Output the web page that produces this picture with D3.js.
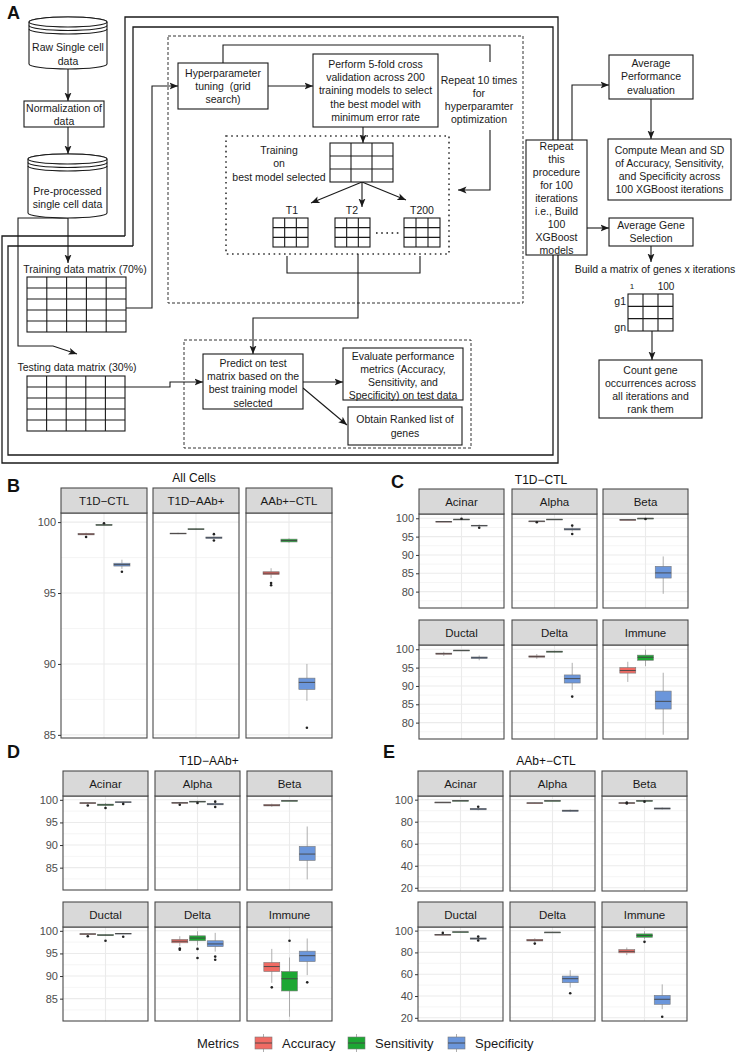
<!DOCTYPE html>
<html>
<head>
<meta charset="utf-8">
<script src="https://cdn.jsdelivr.net/npm/d3@7"></script>
<style>
  body { margin: 0; background: #fff; }
  svg { display: block; }
  text { font-family: "Liberation Sans", Arial, sans-serif; }
</style>
</head>
<body>
<div id="chart"></div>
<script>
// ---- data ----
var metrics = ["Accuracy", "Sensitivity", "Specificity"];
var metricColors = ["#F06B64", "#1DA733", "#6B96DB"];
var comparisons = ["T1D−CTL", "T1D−AAb+", "AAb+−CTL"];
var cellTypes = ["Acinar", "Alpha", "Beta", "Ductal", "Delta", "Immune"];

// one entry per facet, three boxes each (Accuracy, Sensitivity, Specificity)
// box = [lower whisker, q1, median, q3, upper whisker, [outliers]]
var statsB = [
  [[99.05, 99.1, 99.15, 99.2, 99.25, [98.95]], [99.75, 99.78, 99.8, 99.83, 99.87, [99.92]], [96.7, 96.9, 97.0, 97.1, 97.35, [96.5]]],
  [[99.15, 99.18, 99.2, 99.22, 99.25, []], [99.45, 99.48, 99.5, 99.53, 99.56, []], [98.8, 98.85, 98.9, 98.95, 99.0, [99.15, 98.7]]],
  [[96.05, 96.3, 96.4, 96.5, 96.75, [95.7, 95.55]], [98.55, 98.6, 98.7, 98.8, 98.85, []], [87.4, 88.2, 88.7, 89.0, 90.0, [85.5]]]
];
var statsC = [
  [[99.0, 99.05, 99.1, 99.15, 99.2, []], [99.6, 99.65, 99.7, 99.75, 99.8, [99.85]], [97.7, 97.9, 98.0, 98.1, 98.3, [97.4]]],
  [[99.1, 99.15, 99.2, 99.25, 99.3, [98.9]], [99.6, 99.65, 99.7, 99.75, 99.8, []], [96.4, 96.8, 97.0, 97.2, 97.6, [98.0, 95.7]]],
  [[99.55, 99.58, 99.6, 99.62, 99.65, []], [99.9, 99.95, 100, 100, 100, [99.8]], [79.4, 83.7, 85.1, 86.9, 89.6, []]],
  [[98.2, 98.65, 98.8, 98.95, 99.3, []], [99.6, 99.65, 99.7, 99.75, 99.8, []], [97.0, 97.5, 97.7, 97.9, 98.3, []]],
  [[97.4, 97.85, 98.0, 98.2, 98.7, []], [99.1, 99.2, 99.35, 99.5, 99.6, []], [88.9, 90.8, 92.0, 93.0, 96.3, [87.1]]],
  [[91.1, 93.5, 94.2, 95.0, 96.6, []], [95.4, 97.0, 97.8, 98.4, 99.9, []], [76.7, 83.7, 85.8, 88.6, 93.6, []]]
];
var statsD = [
  [[99.2, 99.25, 99.3, 99.35, 99.4, [98.75]], [98.5, 98.75, 98.9, 99.05, 99.3, [98.2]], [99.4, 99.45, 99.5, 99.55, 99.6, [99.1]]],
  [[99.25, 99.3, 99.35, 99.4, 99.45, [98.9]], [99.4, 99.5, 99.6, 99.7, 99.8, [99.3]], [98.7, 98.9, 99.05, 99.2, 99.4, [99.6, 98.4]]],
  [[98.45, 98.65, 98.8, 98.95, 99.15, []], [99.75, 99.78, 99.8, 99.82, 99.85, []], [82.4, 86.6, 88.0, 89.7, 94.1, []]],
  [[99.2, 99.25, 99.3, 99.35, 99.4, [98.8]], [98.9, 98.95, 99.05, 99.15, 99.25, [97.8]], [99.3, 99.35, 99.4, 99.45, 99.5, [98.7]]],
  [[96.6, 97.35, 97.7, 98.1, 98.8, [96.1, 95.8]], [96.8, 97.8, 98.4, 98.9, 99.9, [96.0, 94.0]], [95.4, 96.5, 97.1, 97.8, 99.55, [94.3, 93.6]]],
  [[88.5, 91.0, 92.1, 93.0, 96.0, [87.5]], [81.0, 86.7, 89.4, 91.0, 94.1, [97.8]], [90.2, 93.2, 94.5, 95.5, 98.3, [88.6]]]
];
var statsE = [
  [[97.3, 97.5, 97.6, 97.7, 97.9, []], [98.9, 99.0, 99.1, 99.2, 99.3, []], [90.3, 90.8, 91.5, 92.0, 92.5, [93.6]]],
  [[96.8, 96.9, 97.0, 97.1, 97.2, []], [98.8, 98.9, 99.0, 99.1, 99.2, []], [88.8, 89.3, 90.0, 90.5, 91.0, []]],
  [[96.5, 96.8, 97.0, 97.2, 97.5, [97.3, 96.6]], [98.7, 98.9, 99.0, 99.1, 99.3, [98.2]], [91.0, 91.4, 92.0, 92.5, 93.0, []]],
  [[95.9, 96.1, 96.3, 96.5, 96.7, [97.9]], [98.5, 98.7, 98.8, 98.9, 99.1, []], [91.5, 92.1, 92.7, 93.3, 93.9, [91.0, 94.5]]],
  [[89.5, 90.5, 91.2, 92.0, 93.0, [88.1]], [98.2, 98.4, 98.5, 98.6, 98.8, []], [47.7, 52.2, 55.9, 58.3, 63.7, [42.5]]],
  [[77.5, 79.6, 81.0, 82.6, 84.5, []], [92.0, 93.9, 95.5, 97.0, 99.4, [89.7]], [27.9, 32.4, 37.0, 40.6, 50.7, [21.0]]]
];
var ticksB = [85, 90, 95, 100];
var ticksC = [80, 85, 90, 95, 100];
var ticksD = [85, 90, 95, 100];
var ticksE = [20, 40, 60, 80, 100];

var svg = d3.select("#chart").append("svg")
  .attr("width", 736)
  .attr("height", 1054);

var ink = "#1a1a1a";

svg.append("defs").append("marker")
  .attr("id", "arr")
  .attr("markerUnits", "userSpaceOnUse")
  .attr("markerWidth", 9).attr("markerHeight", 8)
  .attr("refX", 8.5).attr("refY", 4)
  .attr("orient", "auto")
  .append("path").attr("d", "M0,0.5 L8.5,4 L0,7.5 L2,4 Z").attr("fill", ink);

// ================= panel A : workflow =================
var fc = svg.append("g");
var linesG = fc.append("g"), boxG = fc.append("g"), textG = fc.append("g");

function path(pts, arrow, w) {
  linesG.append("path")
    .attr("d", d3.line()(pts))
    .attr("fill", "none")
    .attr("stroke", ink)
    .attr("stroke-width", w || 1.1)
    .attr("marker-end", arrow ? "url(#arr)" : null);
}
function dashRect(x, y, w, h, dash, sw) {
  linesG.append("rect").attr("x", x).attr("y", y).attr("width", w).attr("height", h)
    .attr("fill", "none").attr("stroke", "#333").attr("stroke-width", sw || 1)
    .attr("stroke-dasharray", dash);
}
function box(x, y, w, h) {
  boxG.append("rect").attr("x", x).attr("y", y).attr("width", w).attr("height", h)
    .attr("fill", "#fff").attr("stroke", ink).attr("stroke-width", 1.1);
}
function grid(x, y, w, h, cols, rows) {
  var g = boxG.append("g").attr("stroke", ink).attr("stroke-width", 1.1);
  g.append("rect").attr("x", x).attr("y", y).attr("width", w).attr("height", h).attr("fill", "#fff");
  for (var c = 1; c < cols; c++) {
    g.append("line").attr("x1", x + w * c / cols).attr("x2", x + w * c / cols).attr("y1", y).attr("y2", y + h);
  }
  for (var r = 1; r < rows; r++) {
    g.append("line").attr("x1", x).attr("x2", x + w).attr("y1", y + h * r / rows).attr("y2", y + h * r / rows);
  }
}
function cylinder(x0, y0, x1, y1) {
  var rx = (x1 - x0) / 2, ry = 5, cx = x0 + rx;
  var g = boxG.append("g").attr("fill", "#fff").attr("stroke", ink).attr("stroke-width", 1.1);
  g.append("path").attr("d", "M" + x0 + "," + (y0 + ry) + " A" + rx + "," + ry + " 0 0 1 " + x1 + "," + (y0 + ry) +
    " V" + (y1 - ry) + " A" + rx + "," + ry + " 0 0 1 " + x0 + "," + (y1 - ry) + " Z");
  g.append("ellipse").attr("cx", cx).attr("cy", y0 + ry).attr("rx", rx).attr("ry", ry);
  [3.5, 7].forEach(function(o) {
    g.append("path").attr("fill", "none")
      .attr("d", "M" + x0 + "," + (y0 + ry + o) + " A" + rx + "," + ry + " 0 0 0 " + x1 + "," + (y0 + ry + o));
  });
}
function txt(cx, y0, step, lines, size, anchor) {
  lines.forEach(function(t, i) {
    textG.append("text")
      .attr("x", cx).attr("y", y0 + i * step).attr("dy", "0.35em")
      .attr("text-anchor", anchor || "middle")
      .attr("font-size", size || 10.5)
      .attr("fill", ink)
      .style("white-space", "pre")
      .text(t);
  });
}

// outer loops
path([[125, 236], [125, 17], [558, 17], [558, 463], [2, 463], [2, 236], [125, 236]], false, 1.3);
path([[133, 246], [133, 27], [553, 27], [553, 455], [8, 455], [8, 246], [133, 246]], false, 1.3);

dashRect(168, 36, 355, 267, "3,2");
dashRect(226, 136, 223, 118, "1.6,3.6", 1.6);
dashRect(184, 340, 287, 108, "3,2");

// connectors
path([[68, 69], [68, 101]], true);
path([[68, 127], [68, 154]], true);
path([[68, 218], [68, 263]], true);
path([[68, 218], [18, 218], [18, 346], [53, 346], [77, 354]], true);
path([[126, 308], [152, 308], [152, 86], [178, 86]], true);
path([[125, 387], [170, 387], [170, 382], [203, 382]], true);
path([[268, 86], [313, 86]], true);
path([[223, 63], [223, 45], [490, 45], [490, 62]]);
path([[490, 130], [490, 190], [458, 190]], true);
path([[363, 127], [363, 143]], true);
path([[362, 182], [311, 203]], true);
path([[362, 182], [362, 207]], true);
path([[362, 182], [406, 200]], true);
path([[287, 256], [287, 273], [420, 273], [420, 256]]);
path([[358, 254], [358, 318], [253, 318], [253, 354]], true);
path([[303, 382], [343, 382]], true);
path([[303, 388], [347, 425]], true);
path([[572, 140], [572, 85], [609, 85]], true);
path([[651, 99], [651, 139]], true);
path([[587, 228], [609, 228]], true);
path([[651, 246], [651, 262]], true);
path([[652, 331], [652, 360]], true);

// boxes
cylinder(29, 17, 107, 69);
box(24, 101, 80, 26);
cylinder(28, 154, 107, 218);
grid(27, 277, 99, 55, 5, 5);
grid(27, 376, 98, 55, 5, 5);
box(178, 63, 90, 46);
box(313, 54, 125, 73);
grid(330, 143, 63, 39, 3, 3);
grid(273, 218, 35, 29, 3, 3);
grid(335, 218, 35, 29, 3, 3);
grid(404, 218, 36, 29, 3, 3);
boxG.append("line").attr("x1", 376).attr("x2", 402).attr("y1", 233).attr("y2", 233)
  .attr("stroke", ink).attr("stroke-width", 1.6).attr("stroke-dasharray", "1.6,3.6");
box(203, 354, 100, 55);
box(343, 348, 120, 52);
box(348, 407, 114, 38);
box(526, 140, 61, 115);
box(609, 55, 84, 44);
box(608, 139, 123, 61);
box(609, 218, 84, 28);
grid(628, 294, 45, 37, 3, 3);
box(599, 360, 103, 58);

// texts
txt(68, 47, 14, ["Raw Single cell", "data"]);
txt(64, 108, 13, ["Normalization of", "data"]);
txt(67.5, 191, 13, ["Pre-processed", "single cell data"]);
txt(85, 269, 13, ["Training data matrix (70%)"]);
txt(77, 367, 13, ["Testing data matrix (30%)"]);
txt(223, 73, 13, ["Hyperparameter", "tuning  (grid", "search)"]);
txt(375.5, 64, 13.3, ["Perform 5-fold cross", "validation across 200", "training models to select", "the best model with", "minimum error rate"]);
txt(479, 80, 13.2, ["Repeat 10 times", "for", "hyperparamter", "optimization"]);
txt(279, 150, 13.5, ["Training", "on", "best model selected"]);
txt(292, 210, 13, ["T1"]);
txt(352, 210, 13, ["T2"]);
txt(422, 210, 13, ["T200"]);
txt(253, 363, 13.3, ["Predict on test", "matrix based on the", "best training model", "selected"]);
txt(403, 356, 13, ["Evaluate performance", "metrics (Accuracy,", "Sensitivity, and", "Specificity) on test data"]);
txt(405, 419, 14, ["Obtain Ranked list of", "genes"]);
txt(556.5, 146, 13.1, ["Repeat", "this", "procedure", "for 100", "iterations", "i.e., Build", "100", "XGBoost", "models"]);
txt(651, 63, 13.5, ["Average", "Performance", "evaluation"]);
txt(669.5, 150, 13, ["Compute Mean and SD", "of Accuracy, Sensitivity,", "and Specificity across", "100 XGBoost iterations"]);
txt(651, 225, 13, ["Average Gene", "Selection"]);
txt(655, 269, 13, ["Build a matrix of genes x iterations"]);
txt(632, 286, 13, ["1"], 8);
txt(666, 286, 13, ["100"], 10);
txt(626, 301, 13, ["g1"], 10.5, "end");
txt(626, 327, 13, ["gn"], 10.5, "end");
txt(650.5, 370, 13, ["Count gene", "occurrences across", "all iterations and", "rank them"]);

// panel letters
function letter(ch, x, y) {
  svg.append("text").attr("x", x).attr("y", y).attr("font-size", 18).attr("font-weight", "bold")
    .attr("fill", "#111").text(ch);
}
letter("A", 7, 19);
letter("B", 7, 492);
letter("C", 391, 488);
letter("D", 7, 758);
letter("E", 383, 758);

// ================= panels B-E : box plots =================
function facetGrid(cfg) {
  var all = [];
  cfg.stats.forEach(function(f) {
    f.forEach(function(b) {
      all.push(b[0], b[4]);
      b[5].forEach(function(o) { all.push(o); });
    });
  });
  var lo = d3.min(all), hi = d3.max(all), pad = (hi - lo) * 0.05;
  var step = cfg.ticks[1] - cfg.ticks[0];
  var minors = cfg.ticks.map(function(t) { return t - step / 2; }).concat([cfg.ticks[cfg.ticks.length - 1] + step / 2])
    .filter(function(v) { return v > lo - pad && v < hi + pad; });

  svg.append("text").attr("x", cfg.titleX).attr("y", cfg.titleY).attr("dy", "0.35em")
    .attr("text-anchor", "middle").attr("font-size", 12).attr("fill", "#111").text(cfg.title);

  cfg.facets.forEach(function(name, fi) {
    var r = cfg.rows[Math.floor(fi / 3)];
    var x0 = cfg.x0s[fi % 3];
    var y = d3.scaleLinear().domain([lo - pad, hi + pad]).range([r.bottom, r.top]);
    var x = d3.scaleLinear().domain([0.4, 1.6]).range([x0, x0 + cfg.w]);
    var g = svg.append("g");

    // grid
    g.selectAll(".minor").data(minors).enter().append("line")
      .attr("x1", x0).attr("x2", x0 + cfg.w)
      .attr("y1", function(d) { return y(d); }).attr("y2", function(d) { return y(d); })
      .attr("stroke", "#F2F2F2").attr("stroke-width", 0.8);
    g.selectAll(".major").data(cfg.ticks).enter().append("line")
      .attr("x1", x0).attr("x2", x0 + cfg.w)
      .attr("y1", function(d) { return y(d); }).attr("y2", function(d) { return y(d); })
      .attr("stroke", "#EBEBEB").attr("stroke-width", 1.1);
    g.append("line").attr("x1", x(1)).attr("x2", x(1)).attr("y1", r.top).attr("y2", r.bottom)
      .attr("stroke", "#EBEBEB").attr("stroke-width", 1.1);

    // boxes
    var hw = x(0.1125) - x(0);
    cfg.stats[fi].forEach(function(b, i) {
      var cx = x(1 + (i - 1) * 0.25);
      var bg = g.append("g");
      bg.append("line").attr("x1", cx).attr("x2", cx).attr("y1", y(b[0])).attr("y2", y(b[4]))
        .attr("stroke", "#9a9a9a").attr("stroke-width", 0.8);
      bg.append("rect").attr("x", cx - hw).attr("width", 2 * hw)
        .attr("y", y(b[3])).attr("height", Math.max(y(b[1]) - y(b[3]), 0.8))
        .attr("fill", metricColors[i]).attr("stroke", "#7a7a7a").attr("stroke-width", 0.6);
      bg.append("line").attr("x1", cx - hw).attr("x2", cx + hw).attr("y1", y(b[2])).attr("y2", y(b[2]))
        .attr("stroke", "#444").attr("stroke-width", 0.9);
      bg.selectAll("circle").data(b[5]).enter().append("circle")
        .attr("cx", cx).attr("cy", function(d) { return y(d); }).attr("r", 1.3).attr("fill", "#222");
    });

    // frame + strip
    g.append("rect").attr("x", x0).attr("y", r.top).attr("width", cfg.w).attr("height", r.bottom - r.top)
      .attr("fill", "none").attr("stroke", "#4a4a4a").attr("stroke-width", 1.1);
    g.append("rect").attr("x", x0).attr("y", r.strip).attr("width", cfg.w).attr("height", r.top - r.strip)
      .attr("fill", "#D9D9D9").attr("stroke", "#4a4a4a").attr("stroke-width", 1.1);
    g.append("text").attr("x", x0 + cfg.w / 2).attr("y", (r.strip + r.top) / 2).attr("dy", "0.36em")
      .attr("text-anchor", "middle").attr("font-size", 11.5).attr("fill", "#1A1A1A").text(name);

    // y axis on the first column
    if (fi % 3 === 0) {
      var ax = g.append("g").attr("transform", "translate(" + x0 + ",0)")
        .attr("color", "#4D4D4D")
        .call(d3.axisLeft(y).tickValues(cfg.ticks).tickSize(3).tickPadding(2).tickFormat(d3.format("d")));
      ax.select(".domain").remove();
      ax.selectAll(".tick line").attr("stroke", "#333");
      ax.selectAll(".tick text").attr("font-size", 11).attr("fill", "#4D4D4D")
        .attr("font-family", "'Liberation Sans', Arial, sans-serif");
    }
  });
}

facetGrid({ title: "All Cells", titleX: 194, titleY: 478, facets: comparisons, stats: statsB, ticks: ticksB,
  x0s: [61, 153, 246], w: 86, rows: [{ strip: 488, top: 513, bottom: 738 }] });
facetGrid({ title: "T1D−CTL", titleX: 541, titleY: 480, facets: cellTypes, stats: statsC, ticks: ticksC,
  x0s: [419, 512, 603], w: 85, rows: [{ strip: 489, top: 514, bottom: 608 }, { strip: 620, top: 645, bottom: 739 }] });
facetGrid({ title: "T1D−AAb+", titleX: 209, titleY: 761, facets: cellTypes, stats: statsD, ticks: ticksD,
  x0s: [63, 155, 247], w: 85, rows: [{ strip: 771, top: 796, bottom: 890 }, { strip: 902, top: 927, bottom: 1021 }] });
facetGrid({ title: "AAb+−CTL", titleX: 546, titleY: 761, facets: cellTypes, stats: statsE, ticks: ticksE,
  x0s: [418, 510, 602], w: 85, rows: [{ strip: 771, top: 796, bottom: 891 }, { strip: 902, top: 927, bottom: 1021 }] });

// ---- legend ----
var leg = svg.append("g");
leg.append("text").attr("x", 197).attr("y", 1043).attr("dy", "0.35em").attr("font-size", 13)
  .attr("fill", "#1A1A1A").text("Metrics");
var keyX = [255, 348, 448];
metrics.forEach(function(m, i) {
  var kx = keyX[i];
  leg.append("line").attr("x1", kx + 8.5).attr("x2", kx + 8.5).attr("y1", 1034).attr("y2", 1052)
    .attr("stroke", "#9a9a9a").attr("stroke-width", 0.8);
  leg.append("rect").attr("x", kx).attr("y", 1037).attr("width", 17).attr("height", 12)
    .attr("fill", metricColors[i]).attr("stroke", "#7a7a7a").attr("stroke-width", 0.6);
  leg.append("line").attr("x1", kx).attr("x2", kx + 17).attr("y1", 1043).attr("y2", 1043)
    .attr("stroke", "#444").attr("stroke-width", 0.9);
  leg.append("text").attr("x", kx + 27).attr("y", 1043).attr("dy", "0.35em").attr("font-size", 13)
    .attr("fill", "#1A1A1A").text(m);
});
</script>
</body>
</html>
